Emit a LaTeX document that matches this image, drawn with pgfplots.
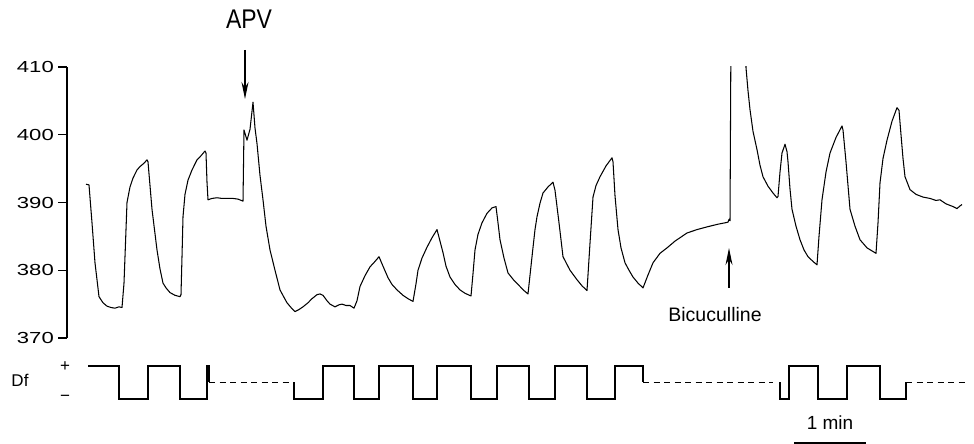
\documentclass[border=0pt]{standalone}
\usepackage{fontspec}
\setmainfont{Liberation Sans}
\newfontfamily\tickfont[FakeStretch=1.38]{Liberation Sans}
\usepackage{pgfplots}
\pgfplotsset{compat=1.18}
\usetikzlibrary{arrows.meta}
\begin{document}
\begin{tikzpicture}[x=1pt,y=1pt,font=\fontsize{19.5}{23}\selectfont]
\path[use as bounding box] (0,0) rectangle (974,444);
\begin{axis}[at={(67pt,106pt)}, anchor=south west, scale only axis,
  width=907pt, height=271pt, xmin=67, xmax=974, ymin=370, ymax=410,
  axis x line=none, axis y line=left, y axis line style={-, line width=1.2pt},
  ytick={370,380,390,400,410}, tick align=outside, major tick length=9pt,
  tick style={line width=1.2pt, black},
  /pgf/number format/assume math mode=true,
  yticklabel style={font=\tickfont\fontsize{16}{19}\selectfont, anchor=east, inner sep=0pt, xshift=-4pt},
  clip mode=individual]
\addplot[black, line width=1.05pt, line join=round] coordinates {
(86,392.7) (89,392.6) (92,387.0) (95,381.1) (99,376.1) (103,375.2) (107,374.7) (111,374.5) (115,374.4) (119,374.6) (122,374.5)
(124,378.1) (125.5,384) (127,390) (130,392.3) (133,393.6) (137,394.8) (140,395.3) (144,395.8) (147,396.3) (148,396.0)
(150,392.5) (152,389) (157,383) (160,380.2) (163,378.1) (166,377.4) (170,376.7) (175,376.3) (180,376.1) (181,376.4)
(182,382) (183,387.9) (185,391.2) (188,393.3) (192,394.8) (197,396.3) (201,396.9) (205,397.6) (206,397.3)
(207,393) (208,390.4) (212,390.6) (217,390.7) (222,390.6) (227,390.6) (233,390.6) (238,390.5) (243,390.2)
(244,400.7) (247,399.2) (250,400.8) (253,404.8) (255,401) (257,398.7) (260,394) (263,390.4) (266,386.5) (270,383) (275,380) (280,377.1) (284,376) (287,375.2) (291,374.5) (295,373.9) (299,374.2) (303,374.6) (308,375.2) (312,375.8) (317,376.4) (320,376.5) (323,376.3) (327,375.5) (330,375)
(335,374.6) (339,374.9) (342,375.0) (346,374.8) (350,374.8) (354,374.4) (357,375.5) (360,377.6) (365,379.2) (370,380.5) (375,381.3) (379,382.0) (383,380.6) (388,378.9) (392,377.9) (397,377.1) (403,376.3) (408,375.8) (413,375.4)
(416,378) (418,380) (422,381.8) (427,383.4) (432,384.8) (437,386.0) (440,384.3) (443,382.6) (446,380.6) (450,379) (455,377.9) (460,377.1) (465,376.6) (471,376.2)
(473,379.5) (475,383) (478,385.3) (482,387.0) (487,388.4) (492,389.2) (496,389.4) (498,387) (500,384.5) (504,381.8) (508,379.6) (514,378.5) (520,377.6) (524,377.0) (528,376.5)
(532,382) (535,386) (537,387.9) (540,389.9) (543,391.4) (548,392.3) (553,393.0) (555,391.8) (559,387) (563,382) (570,380) (577,378.6) (582,377.7) (587,377.0)
(590,384) (593,390.8) (596,392.5) (600,393.8) (606,395.4) (612,396.6) (613,396.0) (615,391) (618,386) (621,383.3) (625,381.1) (629,380) (633,379) (638,378.1) (643,377.4)
(648,379.3) (653,381.1) (657,381.9) (660,382.5) (667,383.3) (675,384.3) (687,385.5) (697,386.0) (707,386.4) (718,386.8) (725,387.0) (728,387.1) (729,387.5) (730,387.3)
(731,416) (745,416) (746,409.9) (748,406.5) (750,403.7) (753,400.5) (757,397.8) (760,395.5) (763,393.8) (768,392.4) (773,391.4) (777,390.7) (778,390.9) (780,394.5) (782,397.3) (785,398.6) (787,397.5) (788,396) (790,392) (792,389) (796,386.5) (800,384.5) (804,383) (808,382) (813,381.3) (817,380.8)
(819,385) (822,390.4) (826,394.5) (830,397.3) (836,399.6) (842,401.3) (843,400.7) (846,396) (850,389) (855,386.5) (860,384.5) (867,383.3) (876,382.5)
(878,387) (880,392.9) (883,396.5) (887,399.2) (892,402) (897,404.0) (899,403.6) (901,400) (903,396.5) (905,393.8) (910,391.9) (916,391.2) (923,390.8) (930,390.6) (936,390.3) (940,390.4) (946,389.8) (953,389.4) (957,389.1) (960,389.5) (962,389.7)
};
\end{axis}
\begin{axis}[at={(67pt,45pt)}, anchor=south west, scale only axis,
  width=907pt, height=33pt, xmin=67, xmax=974, ymin=0, ymax=1,
  hide axis, clip=false]
\addplot[black, line width=1.3pt] coordinates {
(88,1) (119,1) (119,0) (148,0) (148,1) (180,1) (180,0) (207,0) (207,1) (209,1) (209,0.5)
};
\addplot[black, line width=1.3pt, dash pattern=on 6pt off 4.5pt] coordinates {(209,0.5) (290,0.5)};
\addplot[black, line width=1.3pt] coordinates {
(294,0.5) (294,0) (323,0) (323,1) (354,1) (354,0) (379,0) (379,1) (413,1) (413,0) (437,0) (437,1) (471,1) (471,0) (497,0) (497,1) (529,1) (529,0) (555,0) (555,1) (587,1) (587,0) (615,0) (615,1) (643,1) (643,0.5)
};
\addplot[black, line width=1.3pt, dash pattern=on 6pt off 4.5pt] coordinates {(643,0.5) (773,0.5)};
\addplot[black, line width=1.3pt] coordinates {
(780,0.5) (780,0) (789,0) (789,1) (818,1) (818,0) (847,0) (847,1) (880,1) (880,0) (906,0) (906,0.5)
};
\addplot[black, line width=1.3pt, dash pattern=on 6pt off 4.5pt] coordinates {(906,0.5) (965,0.5)};
\end{axis}
% annotations
\node[anchor=base, font=\fontsize{27}{30}\selectfont] at (249,415) {\scalebox{0.85}[1]{APV}};
\draw[line width=1.4pt, -{Stealth[length=17pt,width=7pt]}] (245,394) -- (245,345);
\node[anchor=base] at (715,122) {Bicuculline};
\draw[line width=1.4pt, -{Stealth[length=17pt,width=7pt]}] (729,156) -- (729,196);
\node[anchor=base, font=\fontsize{17}{20}\selectfont] at (20,57) {Df};
\node[font=\fontsize{17}{20}\selectfont] at (65,77) {+};
\node[font=\fontsize{17}{20}\selectfont] at (65,46) {−};
\node[anchor=base, font=\fontsize{19}{22}\selectfont] at (830,14) {1 min};
\draw[line width=1.3pt] (794,1) -- (866,1);
\end{tikzpicture}
\end{document}
